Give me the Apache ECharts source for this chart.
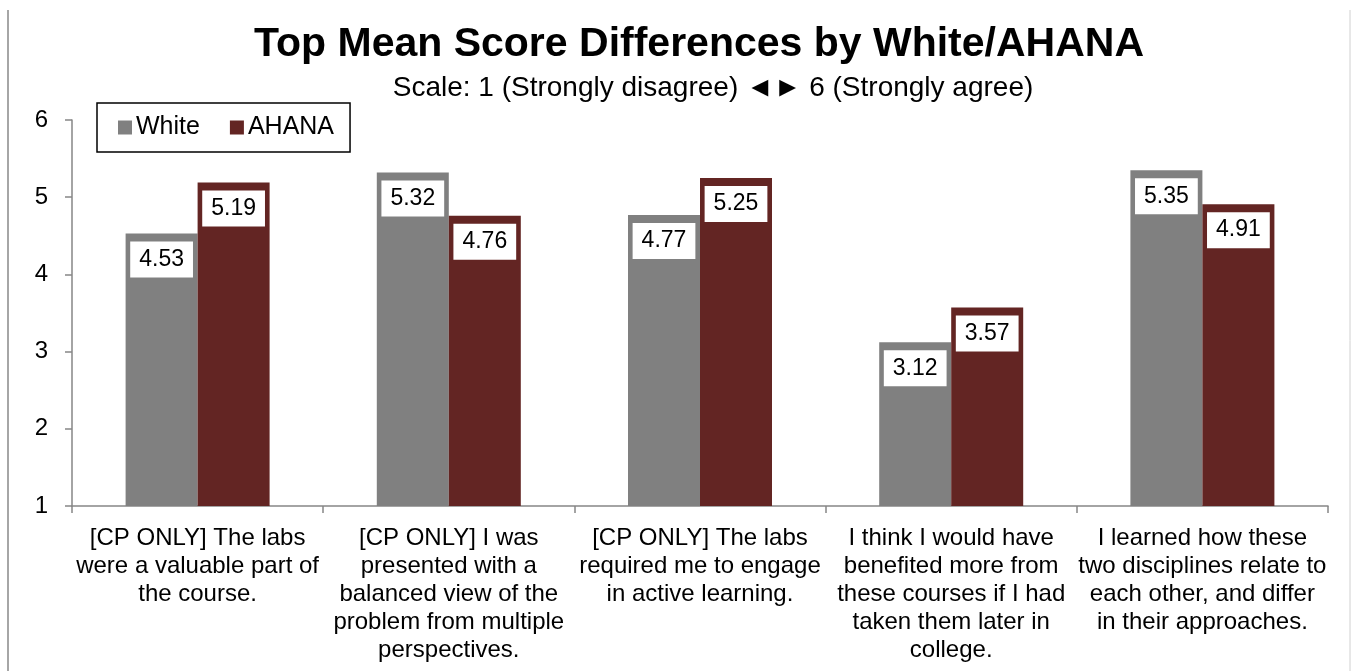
<!DOCTYPE html>
<html>
<head>
<meta charset="utf-8">
<script src="https://cdn.jsdelivr.net/npm/echarts@6/dist/echarts.min.js"></script>
<style>
html,body{margin:0;padding:0;background:#fff;}
#chart{width:1351px;height:671px;}
</style>
</head>
<body>
<div id="chart"></div>
<script>
var titleText = 'Top Mean Score Differences by White/AHANA';
var subtitleText = 'Scale: 1 (Strongly disagree) \u25C4\u25BA 6 (Strongly agree)';
var categories = [
  '[CP ONLY] The labs\nwere a valuable part of\nthe course.',
  '[CP ONLY] I was\npresented with a\nbalanced view of the\nproblem from multiple\nperspectives.',
  '[CP ONLY] The labs\nrequired me to engage\nin active learning.',
  'I think I would have\nbenefited more from\nthese courses if I had\ntaken them later in\ncollege.',
  'I learned how these\ntwo disciplines relate to\neach other, and differ\nin their approaches.'
];
var whiteValues = [4.53, 5.32, 4.77, 3.12, 5.35];
var ahanaValues = [5.19, 4.76, 5.25, 3.57, 4.91];
var yTicks = [1, 2, 3, 4, 5, 6];

var font = '"Liberation Sans", Arial, sans-serif';
var chart = echarts.init(document.getElementById('chart'));
var labelStyle = {
  show: true,
  position: 'insideTop',
  distance: 8,
  color: '#000',
  fontFamily: font,
  fontSize: 23,
  lineHeight: 22,
  backgroundColor: '#fff',
  padding: [7, 9],
  formatter: function (p) { return p.value.toFixed(2); }
};
chart.setOption({
  animation: false,
  textStyle: { fontFamily: font },
  graphic: [
    { type: 'line', shape: { x1: 8, y1: 10, x2: 8, y2: 671 }, style: { stroke: '#a6a6a6', lineWidth: 2 } },
    { type: 'line', shape: { x1: 1350, y1: 10, x2: 1350, y2: 671 }, style: { stroke: '#d0d0d0', lineWidth: 1 } },
    { type: 'text', x: 699, y: 45, style: { text: titleText, font: 'bold 41px ' + font, fill: '#000', textAlign: 'center', textVerticalAlign: 'middle' } },
    { type: 'text', x: 713, y: 88, style: { text: subtitleText, font: '28px ' + font, fill: '#000', textAlign: 'center', textVerticalAlign: 'middle' } }
  ],
  legend: {
    left: 97,
    top: 103,
    orient: 'horizontal',
    borderColor: '#000',
    borderWidth: 1.5,
    padding: [12, 16, 12, 21],
    itemGap: 30,
    itemWidth: 14,
    itemHeight: 14,
    icon: 'rect',
    textStyle: { fontSize: 25, color: '#000', fontFamily: font, padding: [0, 0, 0, -1] },
    data: ['White', 'AHANA']
  },
  grid: { left: 72, right: 23, top: 120, bottom: 165, containLabel: false },
  xAxis: {
    type: 'category',
    data: categories,
    axisLine: { show: true, lineStyle: { color: '#868686', width: 1.5 } },
    axisTick: { show: true, alignWithLabel: false, length: 7, lineStyle: { color: '#868686', width: 1.5 } },
    axisLabel: { interval: 0, margin: 18, color: '#000', fontSize: 24, lineHeight: 28, fontFamily: font, align: 'center' }
  },
  yAxis: {
    type: 'value',
    min: 1,
    max: 6,
    interval: 1,
    splitLine: { show: false },
    axisLine: { show: true, lineStyle: { color: '#868686', width: 1.5 } },
    axisTick: { show: true, length: 7, lineStyle: { color: '#868686', width: 1.5 } },
    axisLabel: { color: '#000', fontSize: 24, margin: 24, fontFamily: font,
      formatter: function (v) { return yTicks.indexOf(v) >= 0 ? String(v) : ''; } }
  },
  series: [
    { name: 'White', type: 'bar', data: whiteValues, barWidth: 72, barGap: '0%', itemStyle: { color: '#808080' }, label: labelStyle },
    { name: 'AHANA', type: 'bar', data: ahanaValues, barWidth: 72, barGap: '0%', itemStyle: { color: '#632523' }, label: labelStyle }
  ]
});
</script>
</body>
</html>
